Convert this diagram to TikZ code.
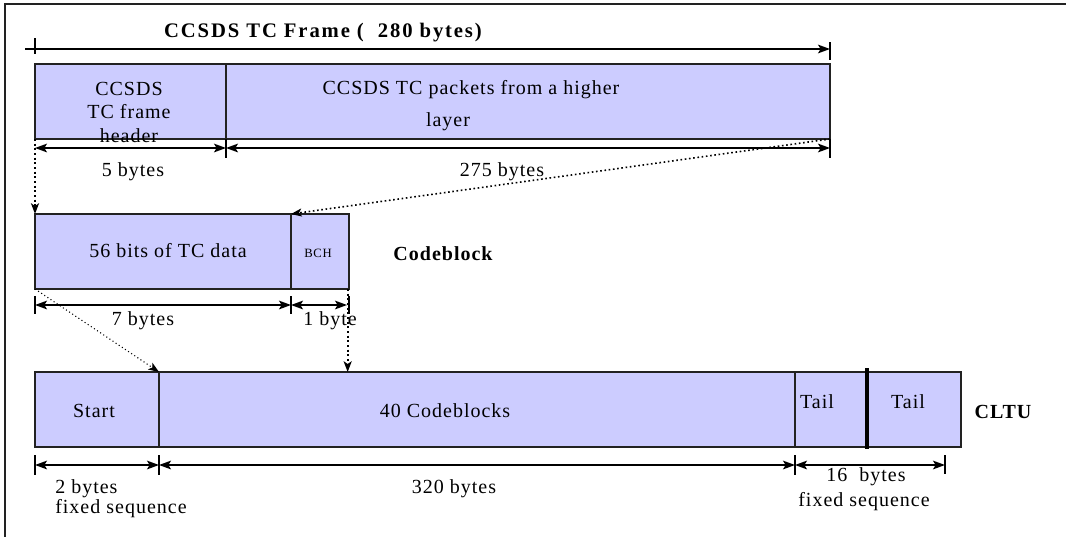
\documentclass[tikz,border=0pt]{standalone}
\usepackage{fontspec}
\setmainfont[LetterSpace=5]{Liberation Serif}
\newfontfamily\widefont[LetterSpace=9]{Liberation Serif}
\usetikzlibrary{arrows.meta}
\definecolor{segfill}{HTML}{CCCCFF}
\definecolor{segline}{HTML}{222222}
\newcommand\segbox[5]{\node[seg,minimum width={(#4-#2)*0.75pt},minimum height={(#5-#3)*0.75pt}] (#1) at ({(#2+#4)/2},{(#3+#5)/2}) {};}
\begin{document}
\begin{tikzpicture}[x=0.75pt,y=-0.75pt,
  >={Stealth[length=9pt,width=6.5pt,inset=2pt]},
  seg/.style={draw=segline,line width=1.5pt,fill=segfill,inner sep=0pt,outer sep=0pt},
  txt/.style={inner sep=0pt,font=\fontsize{15}{18}\selectfont},
  small/.style={inner sep=0pt,font=\fontsize{9.5}{11}\selectfont},
  bold/.style={inner sep=0pt,font=\fontsize{15}{18}\selectfont\bfseries},
  ttl/.style={inner sep=0pt,font=\widefont\fontsize{15.5}{18}\selectfont\bfseries},
  dim/.style={line width=1.2pt,<->},
  dimr/.style={line width=1.2pt,->},
  tick/.style={line width=1.3pt},
  map/.style={dotted,line width=1.5pt,->,>={Stealth[length=8pt,width=6pt,inset=2pt]}},
  mapthin/.style={dotted,line width=0.8pt,->,>={Stealth[length=8pt,width=6pt,inset=2pt]}}]
\useasboundingbox (0,0) rectangle (1066,536);
% outer frame
\draw[line width=1.5pt,segline] (5,545) -- (5,4) -- (1075,4);

% title and overall dimension
\node[ttl] (title) at (323,33) {CCSDS TC Frame (\ \ 280 bytes)};
\coordinate (fs) at (25,49);
\coordinate (fe) at (830,49);
\draw[dimr] (fs) -- (fe);
\draw[tick] (35,38) -- (35,54);
\draw[tick] (830,42) -- (830,60);

% TC frame
\segbox{hdr}{35}{64}{226}{139}
\segbox{pkt}{226}{64}{830}{139}
\node[txt,anchor=base] (h1) at (129,95) {CCSDS};
\node[txt,anchor=base] (h2) at (129,118.5) {TC frame};
\node[txt,anchor=base] (h3) at (129,142) {header};
\node[txt] (p1) at (471,90) {CCSDS TC packets from a higher};
\node[txt] (p2) at (448,122) {layer};

% frame dimensions
\coordinate (d1a) at (35,148);
\coordinate (d1b) at (226,148);
\coordinate (d1c) at (830,148);
\draw[dim] (d1a) -- (d1b);
\draw[dim] (d1b) -- (d1c);
\draw[tick] (226,139) -- (226,158);
\draw[tick] (830,139) -- (830,158);
\node[txt] (l5) at (133,172) {5 bytes};
\node[txt] (l275) at (502,172) {275 bytes};

% codeblock
\segbox{cbdata}{35}{214}{291}{289}
\segbox{cbbch}{291}{214}{349}{289}
\node[txt] (t56) at (168,251) {56 bits of TC data};
\node[small] (tbch) at (318,253) {BCH};
\node[bold] (tcb) at (443,254) {Codeblock};

% mapping arrows frame -> codeblock
\draw[map] (hdr.south west) -- (cbdata.north west);
\draw[map,line width=1.2pt] (pkt.south east) -- (cbbch.north west);

% codeblock dimensions
\coordinate (d2a) at (35,305);
\coordinate (d2b) at (291,305);
\coordinate (d2c) at (347,305);
\draw[dim] (d2a) -- (d2b);
\draw[dim] (d2b) -- (d2c);
\draw[tick] (35,296) -- (35,314);
\draw[tick] (291,296) -- (291,314);
\draw[tick] (349,296) -- (349,314);
\node[txt] (l7) at (143,321) {7 bytes};
\node[txt] (l1) at (330,321) {1 byte};

% CLTU
\segbox{start}{35}{372}{159}{447}
\segbox{cbs}{159}{372}{795}{447}
\segbox{tail1}{795}{372}{867}{447}
\segbox{tail2}{867}{372}{961}{447}
\draw[line width=3pt] ([yshift=3pt]tail1.north east) -- ([yshift=-1.5pt]tail1.south east);
\node[txt] (tstart) at (94,411) {Start};
\node[txt] (t40) at (445,411) {40 Codeblocks};
\node[txt] (tt1) at (817,402) {Tail};
\node[txt] (tt2) at (908,402) {Tail};
\node[bold] (tcltu) at (1003,412) {CLTU};

% mapping arrows codeblock -> CLTU
\draw[mapthin] (cbdata.south west) -- (start.north east);
\draw[map] ([xshift=-1pt]cbbch.south east) -- ([xshift=-1pt]cbbch.south east |- cbs.north);

% CLTU dimensions
\coordinate (d3a) at (35,465);
\coordinate (d3b) at (159,465);
\coordinate (d3c) at (795,465);
\coordinate (d3d) at (945,465);
\draw[dim] (d3a) -- (d3b);
\draw[dim] (d3b) -- (d3c);
\draw[dim] (d3c) -- (d3d);
\draw[tick] (35,455) -- (35,475);
\draw[tick] (159,455) -- (159,475);
\draw[tick] (795,455) -- (795,475);
\draw[tick] (945,455) -- (945,474);
\node[txt,anchor=west] (l2) at (55,489) {2 bytes};
\node[txt,anchor=west] (l2f) at (55,509) {fixed sequence};
\node[txt] (l320) at (454,489) {320 bytes};
\node[txt] (l16) at (866,477) {16\ \ bytes};
\node[txt] (l16f) at (864,502) {fixed sequence};
\end{tikzpicture}
\end{document}
